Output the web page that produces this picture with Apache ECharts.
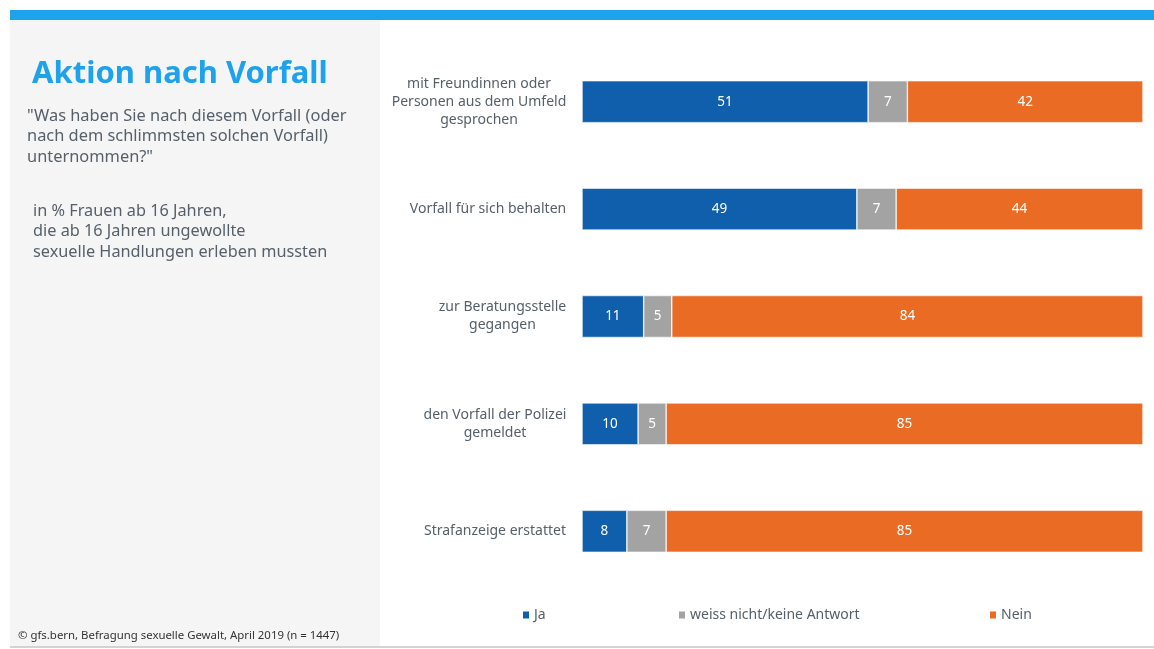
<!DOCTYPE html>
<html>
<head>
<meta charset="utf-8">
<script src="https://cdn.jsdelivr.net/npm/echarts@6/dist/echarts.min.js"></script>
<style>
  html, body { margin: 0; padding: 0; background: #fff; }
  #chart { width: 1154px; height: 649px; }
</style>
</head>
<body>
<div id="chart"></div>
<script>
// Kategorien (von oben nach unten)
var categories = [
    'mit Freundinnen oder\nPersonen aus dem Umfeld\ngesprochen',
    'Vorfall für sich behalten',
    'zur Beratungsstelle\ngegangen',
    'den Vorfall der Polizei\ngemeldet',
    'Strafanzeige erstattet'
];
var seriesNames = ['Ja', 'weiss nicht/keine Antwort', 'Nein'];
var jaData = [51, 49, 11, 10, 8];
var weissNichtData = [7, 7, 5, 5, 7];
var neinData = [42, 44, 84, 85, 85];

var colors = ['#0f5fad', '#a3a3a3', '#e96b24'];
var textColor = '#56606b';
var font = '"Noto Sans", "Open Sans", sans-serif';

// Breite der längsten Zeile je Kategorie messen, damit die Zeilen zentriert stehen
var ctx = document.createElement('canvas').getContext('2d');
ctx.font = '14px ' + font;
var labelRich = {};
categories.forEach(function (c, i) {
    var w = 0;
    c.split('\n').forEach(function (line) {
        w = Math.max(w, ctx.measureText(line).width);
    });
    labelRich['r' + i] = {
        width: Math.ceil(w) + 1,
        align: 'center',
        color: textColor,
        fontSize: 14,
        fontFamily: font,
        lineHeight: 18
    };
});

function makeSeries(name, data, color) {
    return {
        name: name,
        type: 'bar',
        stack: 'total',
        barWidth: 42,
        data: data,
        itemStyle: {color: color, borderColor: '#ffffff', borderWidth: 0.6},
        label: {
            show: true,
            position: 'inside',
            color: '#ffffff',
            fontSize: 13.5,
            fontFamily: font
        },
        emphasis: {disabled: true}
    };
}

function makeLegend(name, left) {
    return {
        data: [name],
        left: left,
        top: 608,
        padding: 0,
        icon: 'rect',
        itemWidth: 8,
        itemHeight: 9,
        selectedMode: false,
        textStyle: {color: textColor, fontSize: 14, fontFamily: font, padding: [0, 0, 0, -1]}
    };
}

var chart = echarts.init(document.getElementById('chart'));
var option = {
    animation: false,
    backgroundColor: '#ffffff',
    graphic: [
        // grauer Bereich links
        {type: 'rect', shape: {x: 10, y: 20, width: 370, height: 626}, style: {fill: '#f5f5f5'}, z: -10},
        // blauer Balken oben
        {type: 'rect', shape: {x: 10, y: 10, width: 1144, height: 10}, style: {fill: '#1fa2ec'}},
        // Linie unten
        {type: 'rect', shape: {x: 10, y: 646, width: 1144, height: 2}, style: {fill: '#d3d3d3'}},
        {
            type: 'text', left: 32, top: 59,
            style: {text: 'Aktion nach Vorfall', fill: '#1fa2ec', font: 'bold 31px ' + font}
        },
        {
            type: 'text', left: 27, top: 106,
            style: {
                text: '"Was haben Sie nach diesem Vorfall (oder\nnach dem schlimmsten solchen Vorfall)\nunternommen?"',
                fill: textColor, font: '16.4px ' + font, lineHeight: 20.5
            }
        },
        {
            type: 'text', left: 33, top: 201,
            style: {
                text: 'in % Frauen ab 16 Jahren,\ndie ab 16 Jahren ungewollte\nsexuelle Handlungen erleben mussten',
                fill: textColor, font: '16.3px ' + font, lineHeight: 20.5
            }
        },
        {
            type: 'text', left: 18, top: 630,
            style: {
                text: '© gfs.bern, Befragung sexuelle Gewalt, April 2019 (n = 1447)',
                fill: '#333333', font: '11.4px ' + font
            }
        }
    ],
    legend: [
        makeLegend(seriesNames[0], 521),
        makeLegend(seriesNames[1], 677),
        makeLegend(seriesNames[2], 988)
    ],
    grid: {left: 582, right: 11, top: 48, bottom: 64},
    xAxis: {
        type: 'value',
        min: 0,
        max: 100,
        show: false
    },
    yAxis: {
        type: 'category',
        inverse: true,
        data: categories,
        axisLine: {show: false},
        axisTick: {show: false},
        axisLabel: {
            color: textColor,
            fontSize: 14,
            fontFamily: font,
            lineHeight: 18,
            margin: 15,
            align: 'right',
            rich: labelRich,
            formatter: function (v, idx) {
                return v.split('\n').map(function (line) {
                    return '{r' + idx + '|' + line + '}';
                }).join('\n');
            }
        }
    },
    series: [
        makeSeries(seriesNames[0], jaData, colors[0]),
        makeSeries(seriesNames[1], weissNichtData, colors[1]),
        makeSeries(seriesNames[2], neinData, colors[2])
    ]
};
chart.setOption(option);
</script>
</body>
</html>
